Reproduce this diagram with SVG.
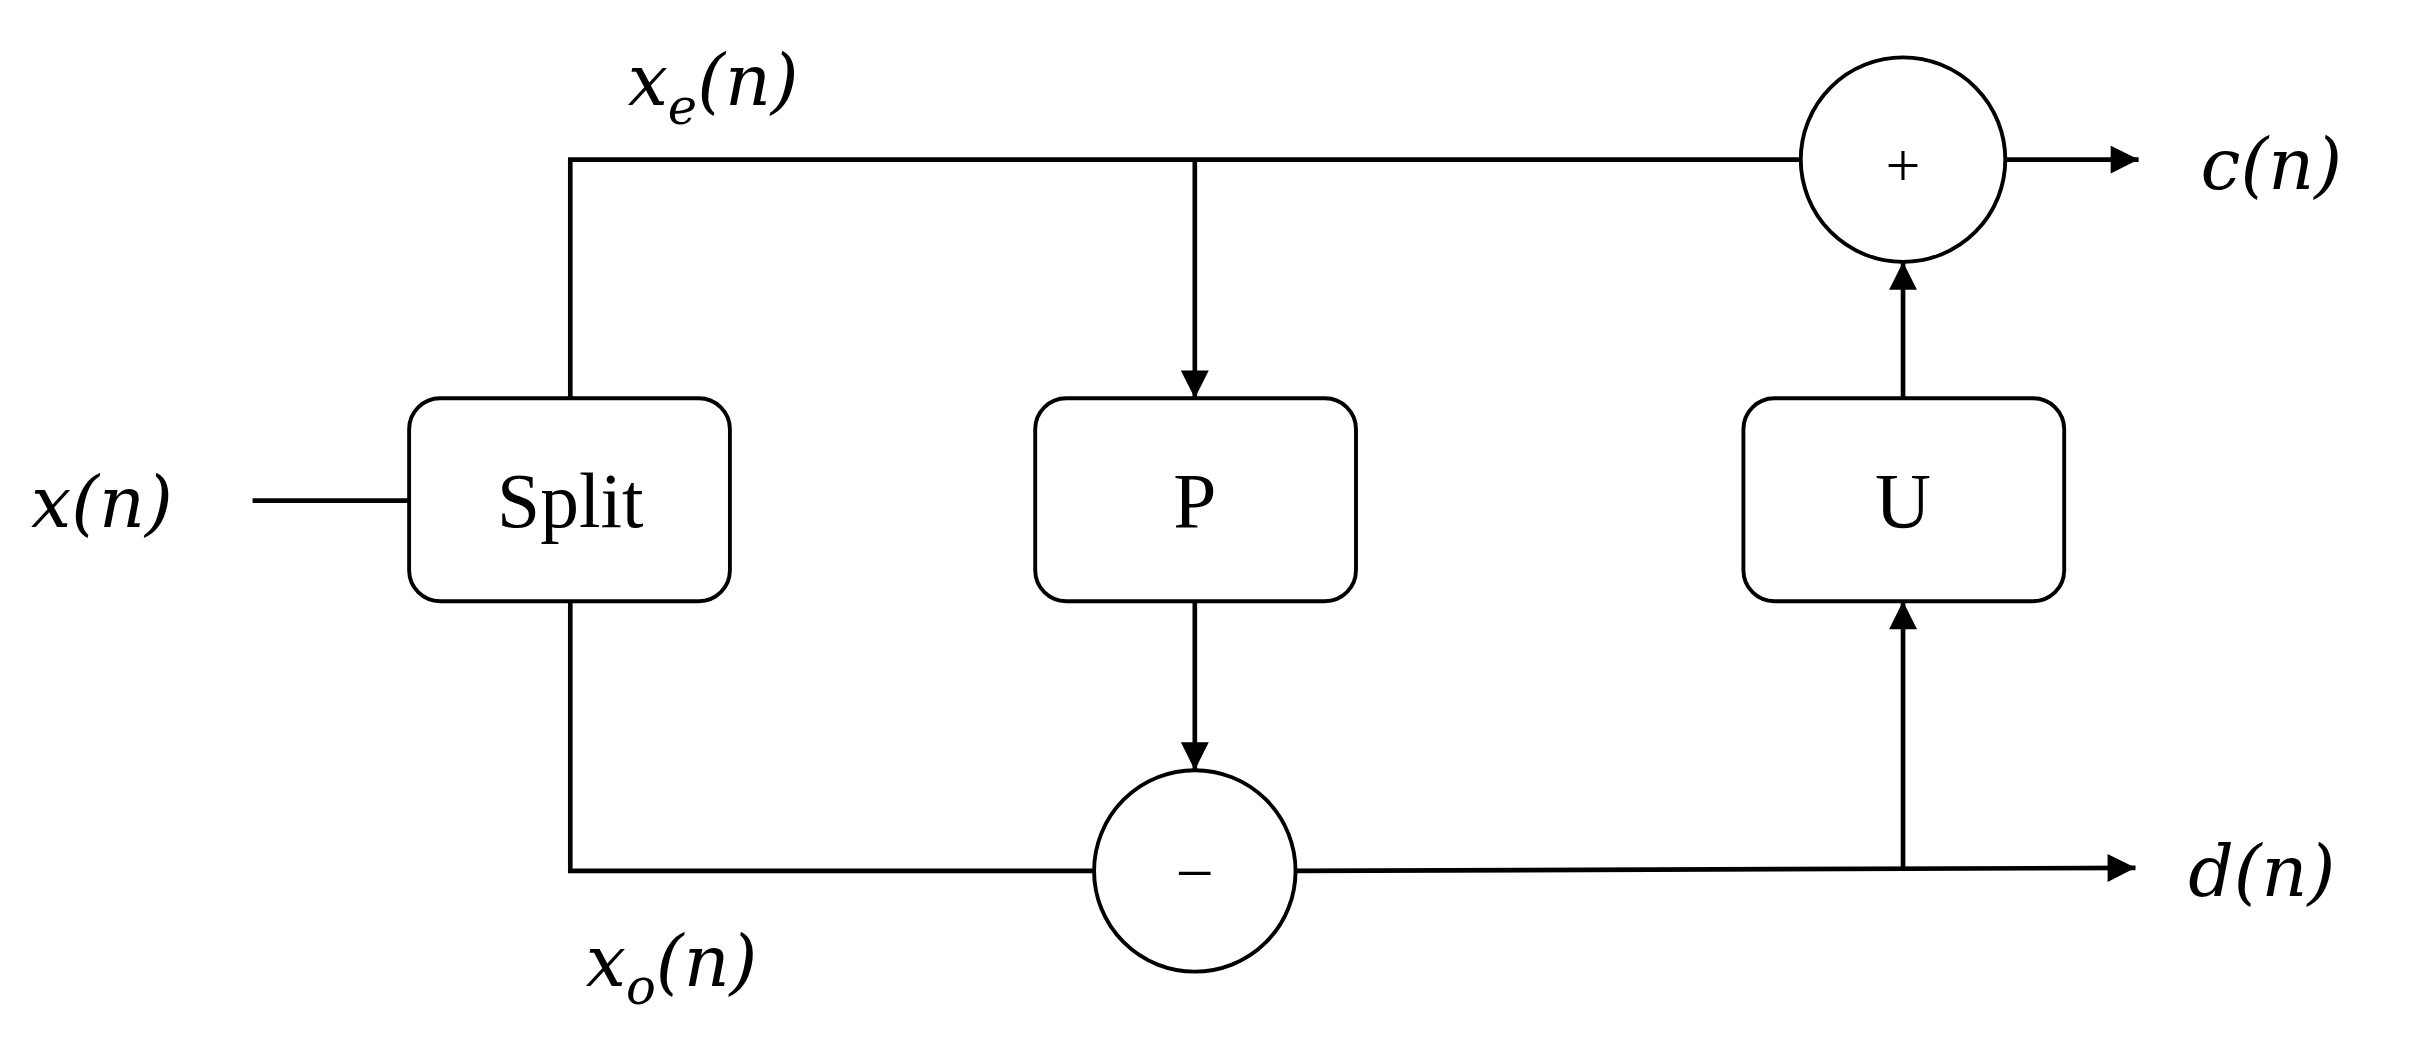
<svg xmlns="http://www.w3.org/2000/svg" width="2430" height="1048" viewBox="0 0 2430 1048">
<style>
.b{fill:#fff;stroke:#000;stroke-width:2.5}
.l{fill:none;stroke:#000;stroke-width:3}
.t{font-family:"Liberation Serif",serif;font-size:50px;text-anchor:middle;fill:#000}
.m{font-family:"DejaVu Serif","Liberation Serif",serif;font-style:italic;font-size:46px;fill:#000}
.s{font-size:32px}
</style>
<defs><marker id="a" viewBox="0 0 10 10" refX="10" refY="5" markerWidth="8" markerHeight="6" markerUnits="userSpaceOnUse" orient="auto"><path d="M0,0L10,5L0,10z"/></marker>
<marker id="ah" viewBox="0 0 10 10" refX="10" refY="5" markerWidth="24" markerHeight="18" markerUnits="userSpaceOnUse" orient="auto"><path d="M0,0L10,5L0,10z"/></marker></defs>
<rect width="2430" height="1048" fill="#fff"/>
<g transform="scale(1.5497)">
<g id="connectors">
<path class="l" d="M368,257V103H1162"/>
<path class="l" d="M368,388V562H706"/>
<path class="l" d="M163,323H264"/>
<path class="l" d="M771,103V257" marker-end="url(#ah)"/>
<path class="l" d="M771,388V497" marker-end="url(#ah)"/>
<path class="l" d="M1294,103H1380" marker-end="url(#ah)"/>
<path class="l" d="M836,562L1378,560" marker-end="url(#ah)"/>
<path class="l" d="M1228,561V388" marker-end="url(#ah)"/>
<path class="l" d="M1228,257V169" marker-end="url(#ah)"/>
</g>
<g id="split"><rect class="b" x="264" y="257" width="207" height="131" rx="20"/><text class="t" x="368" y="340">Split</text></g>
<g id="p"><rect class="b" x="668" y="257" width="207" height="131" rx="20"/><text class="t" x="771" y="340">P</text></g>
<g id="u"><rect class="b" x="1125" y="257" width="207" height="131" rx="20"/><text class="t" x="1228" y="340">U</text></g>
<g id="plus"><circle class="b" cx="1228" cy="103" r="66"/><text class="t" x="1228" y="120" style="font-size:40px">+</text></g>
<g id="minus"><circle class="b" cx="771" cy="562" r="65"/><text class="t" x="771" y="578" style="font-size:44px">−</text></g>
<g id="labels">
<text class="m" x="20" y="340">x(n)</text>
<text class="m" x="405" y="68">x<tspan class="s" dy="12">e</tspan><tspan dy="-12">(n)</tspan></text>
<text class="m" x="378" y="636">x<tspan class="s" dy="12">o</tspan><tspan dy="-12">(n)</tspan></text>
<text class="m" x="1420" y="122">c(n)</text>
<text class="m" x="1412" y="578">d(n)</text>
</g>
</g>
</svg>
